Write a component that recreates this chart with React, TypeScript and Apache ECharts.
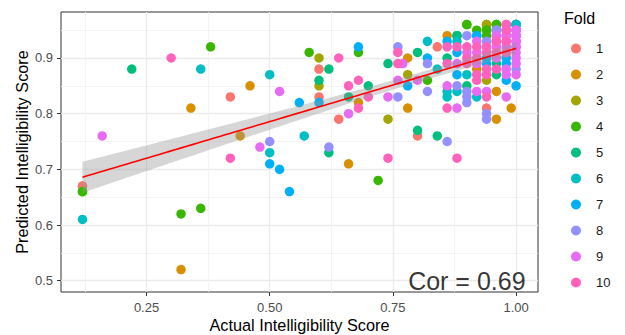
import React, { useEffect, useRef } from "react";
import * as echarts from "echarts";

// ---- data (Actual, Predicted) per fold; repeated pairs are overlapping points ----
const fold1 = [[0.12,0.67],[0.12,0.67],[0.42,0.83],[0.60,0.88],[0.60,0.83],[0.64,0.79],[0.84,0.92],[0.80,0.76],[0.94,0.81]];
const fold2 = [[0.32,0.52],[0.34,0.81],[0.46,0.85],[0.44,0.76],[0.66,0.71],[0.68,0.82],[0.78,0.81],[0.78,0.90],[0.86,0.94],[0.92,0.88],[0.96,0.84],[0.96,0.79],[0.99,0.81]];
const fold3 = [[0.60,0.90],[0.60,0.85],[0.74,0.79],[0.78,0.87],[0.94,0.96],[0.94,0.96],[0.94,0.96],[0.94,0.86]];
const fold4 = [[0.12,0.66],[0.12,0.66],[0.32,0.62],[0.36,0.63],[0.38,0.92],[0.58,0.91],[0.68,0.91],[0.72,0.68],[0.82,0.86],[0.90,0.96],[0.90,0.96],[0.92,0.95],[0.94,0.95],[0.94,0.95],[0.94,0.94],[0.96,0.96],[0.96,0.96],[0.96,0.96]];
const fold5 = [[0.22,0.88],[0.60,0.86],[0.62,0.88],[0.62,0.73],[0.66,0.83],[0.70,0.85],[0.74,0.89],[0.80,0.91],[0.80,0.77],[0.84,0.76],[0.86,0.90],[0.88,0.94],[0.88,0.94],[0.90,0.85],[0.96,0.87],[0.96,0.89]];
const fold6 = [[0.12,0.61],[0.36,0.88],[0.50,0.87],[0.50,0.73],[0.57,0.76],[0.82,0.93],[0.84,0.88],[0.86,0.84],[0.86,0.83],[0.88,0.93],[0.88,0.84],[0.90,0.87],[0.92,0.83],[1.00,0.96],[1.00,0.96],[1.00,0.96],[1.00,0.96],[1.00,0.96]];
const fold7 = [[0.50,0.71],[0.52,0.70],[0.54,0.66],[0.56,0.82],[0.60,0.82],[0.68,0.92],[0.78,0.85],[0.82,0.90],[0.86,0.93],[0.88,0.91],[0.88,0.87],[0.92,0.94],[0.92,0.94],[0.94,0.90],[0.94,0.89],[0.98,0.90],[0.98,0.89],[0.98,0.86],[1.00,0.85]];
const fold8 = [[0.50,0.75],[0.62,0.74],[0.76,0.83],[0.76,0.92],[0.82,0.89],[0.82,0.84],[0.86,0.75],[0.88,0.85],[0.90,0.94],[0.90,0.84],[0.90,0.83],[0.90,0.82],[0.94,0.93],[0.94,0.80],[0.94,0.79],[0.96,0.95],[0.96,0.95],[0.96,0.95],[1.00,0.88]];
const fold9 = [[0.16,0.76],[0.48,0.74],[0.52,0.84],[0.66,0.80],[0.74,0.83],[0.76,0.86],[0.77,0.89],[0.80,0.86],[0.86,0.85],[0.88,0.89],[0.88,0.81],[0.90,0.91],[0.92,0.93],[0.92,0.91],[0.92,0.89],[0.92,0.84],[0.94,0.84],[0.96,0.94],[0.96,0.94],[0.96,0.92],[0.96,0.90],[0.98,0.94],[0.98,0.94],[0.98,0.94],[0.98,0.92],[0.98,0.88],[0.98,0.87],[0.98,0.83],[1.00,0.95],[1.00,0.95],[1.00,0.95],[1.00,0.95],[1.00,0.94],[1.00,0.94],[1.00,0.94],[1.00,0.93],[1.00,0.93],[1.00,0.93],[1.00,0.92],[1.00,0.92],[1.00,0.91],[1.00,0.90],[1.00,0.89],[1.00,0.87]];
const fold10 = [[0.30,0.90],[0.42,0.72],[0.64,0.90],[0.66,0.85],[0.68,0.86],[0.68,0.81],[0.70,0.83],[0.74,0.72],[0.76,0.91],[0.76,0.89],[0.86,0.92],[0.86,0.89],[0.86,0.81],[0.88,0.92],[0.88,0.72],[0.90,0.92],[0.90,0.90],[0.90,0.89],[0.92,0.92],[0.92,0.90],[0.92,0.87],[0.92,0.86],[0.94,0.92],[0.94,0.92],[0.94,0.91],[0.94,0.88],[0.94,0.87],[0.94,0.83],[0.96,0.93],[0.96,0.93],[0.96,0.93],[0.96,0.91],[0.96,0.88],[0.98,0.96],[0.98,0.96],[0.98,0.96],[0.98,0.95],[0.98,0.95],[0.98,0.95],[0.98,0.93],[0.98,0.93],[0.98,0.93],[0.98,0.91]];

const foldNames = ["1","2","3","4","5","6","7","8","9","10"];
const foldData = [fold1, fold2, fold3, fold4, fold5, fold6, fold7, fold8, fold9, fold10];
const foldColors = ["#F8766D","#D89000","#A3A500","#39B600","#00BF7D","#00BFC4","#00B0F6","#9590FF","#E76BF3","#FF62BC"];

const xMajorTicks = [0.25, 0.5, 0.75, 1.0];
const xMinorTicks = [0.125, 0.375, 0.625, 0.875];
const yMajorTicks = [0.5, 0.6, 0.7, 0.8, 0.9];
const yMinorTicks = [0.55, 0.65, 0.75, 0.85, 0.95];
const corLabel = "Cor = 0.69";
const corPos = [0.9, 0.5];

const X_MIN = 0.0764, X_MAX = 1.0444, Y_MIN = 0.4797, Y_MAX = 0.9826;
const FONT = "'Liberation Sans', Arial, sans-serif";

// linear fit (lm) with 95% confidence band, computed from the data
function fitLm() {
  const pts = foldData.flat();
  const n = pts.length;
  let sx = 0, sy = 0;
  pts.forEach(([x, y]) => { sx += x; sy += y; });
  const mx = sx / n, my = sy / n;
  let sxx = 0, sxy = 0;
  pts.forEach(([x, y]) => { sxx += (x - mx) ** 2; sxy += (x - mx) * (y - my); });
  const b = sxy / sxx, a = my - b * mx;
  let sse = 0;
  pts.forEach(([x, y]) => { sse += (y - a - b * x) ** 2; });
  const s = Math.sqrt(sse / (n - 2));
  const t = 1.97;
  const xs = pts.map(p => p[0]);
  const lo = Math.min(...xs), hi = Math.max(...xs);
  const line: number[][] = [], upper: number[][] = [], lower: number[][] = [];
  const steps = 80;
  for (let i = 0; i < steps; i++) {
    const x = lo + (hi - lo) * i / (steps - 1);
    const yh = a + b * x;
    const se = s * Math.sqrt(1 / n + (x - mx) ** 2 / sxx);
    line.push([x, yh]);
    upper.push([x, yh + t * se]);
    lower.push([x, yh - t * se]);
  }
  return { line, upper, lower };
}

export default function App() {
  const ref = useRef<HTMLDivElement>(null);
  useEffect(() => {
    if (!ref.current) return;
    const chart = echarts.init(ref.current, undefined, { renderer: "svg" });
    const fit = fitLm();
    const axisCommon = { type: "value" as const };
    const option: any = {
      animation: false,
      textStyle: { fontFamily: FONT },
      grid: {
        left: 61, top: 12, width: 477, height: 280, containLabel: false, outerBoundsMode: "none",
        show: true, borderColor: "#333333", borderWidth: 1, backgroundColor: "transparent",
      },
      title: { text: "Fold", left: 564, top: 10, padding: 0, textStyle: { fontSize: 16, fontWeight: "normal", color: "#000", fontFamily: FONT } },
      legend: {
        data: foldNames, orient: "vertical", left: 566, top: 37,
        itemWidth: 30, itemHeight: 10, itemGap: 13, icon: "circle",
        textStyle: { fontSize: 13, color: "#1A1A1A", fontFamily: FONT },
        selectedMode: false,
      },
      xAxis: [
        {
          ...axisCommon, min: X_MIN, max: X_MAX,
          axisLine: { show: false },
          axisTick: { show: true, customValues: xMajorTicks, length: 4, lineStyle: { color: "#333333", width: 1 } },
          axisLabel: { customValues: xMajorTicks, formatter: (v: number) => v.toFixed(2), color: "#4D4D4D", fontSize: 13, margin: 9, fontFamily: FONT },
          splitLine: { show: true, lineStyle: { color: "#EBEBEB", width: 1.3 } },
          name: "Actual Intelligibility Score", nameLocation: "middle", nameGap: 25, nameMoveOverlap: false,
          nameTextStyle: { fontSize: 16.3, color: "#000", fontFamily: FONT },
        },
        {
          ...axisCommon, min: X_MIN, max: X_MAX, position: "bottom",
          axisLine: { show: false }, axisLabel: { show: false },
          axisTick: { show: false, customValues: xMinorTicks },
          splitLine: { show: true, lineStyle: { color: "#F1F1F1", width: 0.8 } },
        },
      ],
      yAxis: [
        {
          ...axisCommon, min: Y_MIN, max: Y_MAX,
          axisLine: { show: false },
          axisTick: { show: true, customValues: yMajorTicks, length: 4, lineStyle: { color: "#333333", width: 1 } },
          axisLabel: { customValues: yMajorTicks, formatter: (v: number) => v.toFixed(1), color: "#4D4D4D", fontSize: 13, margin: 8, fontFamily: FONT },
          splitLine: { show: true, lineStyle: { color: "#EBEBEB", width: 1.3 } },
          name: "Predicted Intelligibility Score", nameLocation: "middle", nameGap: 31, nameMoveOverlap: false,
          nameTextStyle: { fontSize: 16.3, color: "#000", fontFamily: FONT },
        },
        {
          ...axisCommon, min: Y_MIN, max: Y_MAX, position: "left",
          axisLine: { show: false }, axisLabel: { show: false },
          axisTick: { show: false, customValues: yMinorTicks },
          splitLine: { show: true, lineStyle: { color: "#F1F1F1", width: 0.8 } },
        },
      ],
      series: [
        ...foldData.map((d, i) => ({
          type: "scatter", name: foldNames[i], data: d, symbolSize: 9.5,
          xAxisIndex: 0, yAxisIndex: 0,
          itemStyle: { color: foldColors[i], opacity: 1 },
          emphasis: { disabled: true },
        })),
        {
          type: "custom", name: "band", xAxisIndex: 0, yAxisIndex: 0, z: 3,
          data: [fit.line[0]],
          renderItem: (params: any, api: any) => {
            const pts = [
              ...fit.upper.map(p => api.coord(p)),
              ...fit.lower.slice().reverse().map(p => api.coord(p)),
            ];
            return { type: "polygon", shape: { points: pts }, style: { fill: "rgba(153,153,153,0.4)", stroke: "none" } };
          },
          silent: true,
        },
        {
          type: "line", name: "fit", data: fit.line, showSymbol: false, symbol: "none", z: 4,
          xAxisIndex: 0, yAxisIndex: 0,
          lineStyle: { color: "#FF0000", width: 1.6 }, silent: true,
        },
        {
          type: "scatter", name: "cor", data: [corPos], symbolSize: 1, z: 5,
          itemStyle: { color: "rgba(0,0,0,0)" }, silent: true,
          label: { show: true, position: "inside", formatter: corLabel, fontSize: 25, color: "#000", fontFamily: FONT },
        },
      ],
    };
    chart.setOption(option);
    return () => chart.dispose();
  }, []);
  return <div ref={ref} style={{ position: "absolute", left: 0, top: 0, width: 625, height: 335, background: "#fff" }} />;
}
